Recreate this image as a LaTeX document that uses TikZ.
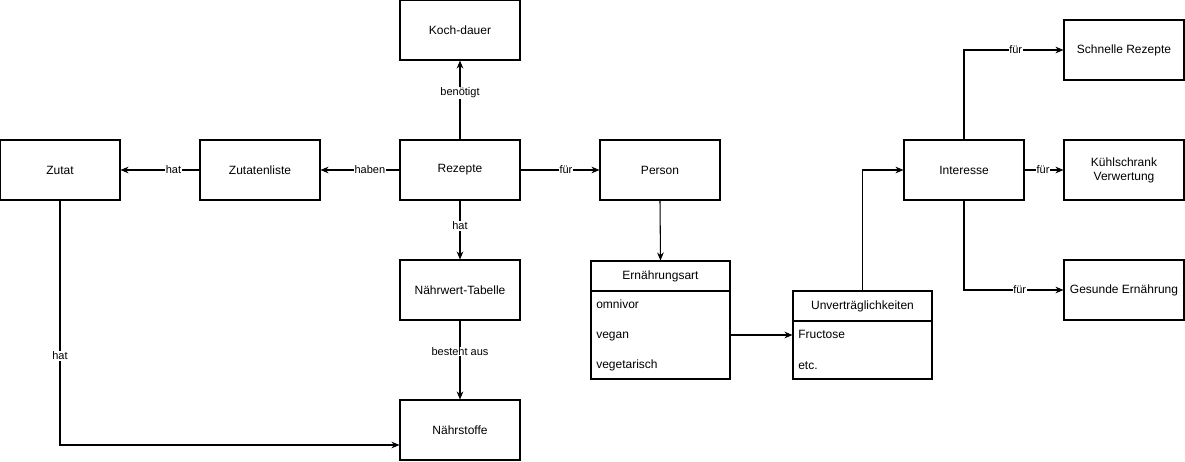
\documentclass[tikz,border=0pt]{standalone}
\usepackage{fontspec}
\setmainfont{Liberation Sans}
\usetikzlibrary{arrows.meta}

\begin{document}
\begin{tikzpicture}[x=0.75pt,y=-0.75pt,
		entity/.style={draw,thick,minimum width=90pt,minimum height=45pt,align=center,font=\fontsize{9}{10.5}\selectfont,inner sep=1pt},
		field/.style={anchor=west,font=\fontsize{9}{10.5}\selectfont,inner sep=0pt,text height=1.5ex,text depth=0.4ex},
		rel/.style={thick,-{Stealth[length=6pt,width=5pt]}},
		lbl/.style={fill=white,inner sep=0.5pt,font=\fontsize{8.25}{9.5}\selectfont}]
		
		\useasboundingbox (0,0) rectangle (1185,461);
		
		% Entities
		\node[entity] (kochdauer) at (460,30) {Koch-dauer};
		\node[entity] (zutat) at (60,170) {Zutat};
		\node[entity] (zutatenliste) at (260,170) {Zutatenliste};
		\node[entity] (rezepte) at (460,170) {Rezepte};
		\node[entity] (person) at (660,170) {Person};
		\node[entity] (naehrwert) at (460,290) {Nährwert-Tabelle};
		\node[entity] (naehrstoffe) at (460,430) {Nährstoffe};
		\node[entity] (interesse) at (964,170) {Interesse};
		\node[entity] (schnell) at (1124,50) {Schnelle Rezepte};
		\node[entity] (kuehl) at (1124,170) {Kühlschrank\\Verwertung};
		\node[entity] (gesund) at (1124,290) {Gesunde Ernährung};
		
		% Ernaehrungsart with its list
		\node[draw,thick,minimum width=104.25pt,minimum height=88.5pt,inner sep=0pt] (ernaehrung) at (660.5,320) {};
		\node[font=\fontsize{9}{10.5}\selectfont] (ernaehrungtitel) at (660.5,276) {Ernährungsart};
		\draw[thick] (591,291) -- (730,291);
		\node[field] (omnivor) at (596,305) {omnivor};
		\node[field] (vegan) at (596,335) {vegan};
		\node[field] (vegetarisch) at (596,365) {vegetarisch};
		
		% Unvertraeglichkeiten with its list
		\node[draw,thick,minimum width=104.25pt,minimum height=66pt,inner sep=0pt] (unvertraeglich) at (862.5,335) {};
		\node[font=\fontsize{9}{10.5}\selectfont] (unvertitel) at (862.5,306) {Unverträglichkeiten};
		\draw[thick] (793,321) -- (932,321);
		\node[field] (fructose) at (798,335) {Fructose};
		\node[field] (etc) at (798,366) {etc.};
		
		% Connectors
		\draw[rel] (rezepte) -- node[lbl,pos=0.59] {benötigt} (kochdauer);
		\draw[rel] (rezepte) -- node[lbl,pos=0.375] {haben} (zutatenliste);
		\draw[rel] (zutatenliste) -- node[lbl,pos=0.33] {hat} (zutat);
		\draw[rel] (rezepte) -- node[lbl,pos=0.575] {für} (person);
		\draw[rel] (rezepte) -- node[lbl,pos=0.43] {hat} (naehrwert);
		\draw[rel] (naehrwert) -- node[lbl,pos=0.39] {besteht aus} (naehrstoffe);
		\draw[rel] (zutat.south) |- node[lbl,pos=0.318] {hat} ([yshift=-11.25pt]naehrstoffe.west);
		\draw[rel] (person.south) -- (ernaehrung.north);
		\draw[rel] (ernaehrung.east |- vegan) -- (unvertraeglich.west |- vegan);
		\draw[rel] (unvertraeglich.north) |- (interesse.west);
		\draw[rel] (interesse.north) |- node[lbl,pos=0.76] {für} (schnell.west);
		\draw[rel] (interesse) -- node[lbl,pos=0.475] {für} (kuehl);
		\draw[rel] (interesse.south) |- node[lbl,pos=0.78] {für} (gesund.west);
	\end{tikzpicture}
\end{document}
